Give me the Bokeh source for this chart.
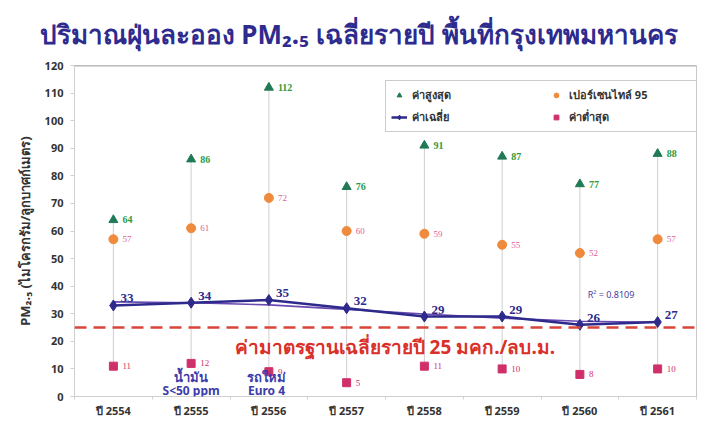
from bokeh.plotting import figure
from bokeh.models import (ColumnDataSource, Range1d, FixedTicker, Span, Label,
                          Legend, LegendItem, Title)
from bokeh.embed import file_html
from bokeh.resources import INLINE

# ---- data ----
years = ["ปี 2554", "ปี 2555", "ปี 2556", "ปี 2557", "ปี 2558", "ปี 2559", "ปี 2560", "ปี 2561"]
max_vals = [64, 86, 112, 76, 91, 87, 77, 88]
p95_vals = [57, 61, 72, 60, 59, 55, 52, 57]
mean_vals = [33, 34, 35, 32, 29, 29, 26, 27]
min_vals = [11, 12, 9, 5, 11, 10, 8, 10]
trend_vals = [34.3, 34.0, 33.2, 31.6, 29.9, 28.4, 27.3, 26.9]
standard = 25
y_ticks = [0, 10, 20, 30, 40, 50, 60, 70, 80, 90, 100, 110, 120]

FONT = "Noto Sans"
xs = list(range(1, len(years) + 1))

src = ColumnDataSource(dict(
    x=xs, mx=max_vals, p95=p95_vals, mean=mean_vals, mn=min_vals, trend=trend_vals,
    mx_t=[str(v) for v in max_vals], p95_t=[str(v) for v in p95_vals],
    mean_t=[str(v) for v in mean_vals], mn_t=[str(v) for v in min_vals],
))

p = figure(width=706, height=420, output_backend="svg", toolbar_location=None,
           x_range=Range1d(0.5, len(years) + 0.5), y_range=Range1d(0, 120),
           min_border_left=74, min_border_right=10, min_border_top=10, min_border_bottom=18,
           background_fill_color="white", border_fill_color="white")
p.title = Title(text="ปริมาณฝุ่นละออง PM₂.₅ เฉลี่ยรายปี พื้นที่กรุงเทพมหานคร",
                align="left", text_font=FONT, text_font_size="26px",
                text_font_style="bold", text_color="#2e2b8f", offset=-35, standoff=27)
p.outline_line_color = "#c8c8c8"
p.xgrid.visible = False
p.ygrid.visible = False

# axes
p.yaxis.ticker = FixedTicker(ticks=y_ticks)
p.yaxis.major_label_text_font = FONT
p.yaxis.major_label_text_font_size = "11px"
p.yaxis.major_label_text_font_style = "bold"
p.yaxis.major_label_text_color = "#333333"
p.yaxis.major_label_standoff = 7
p.yaxis.axis_line_color = "#d0d0d0"
p.yaxis.major_tick_line_color = "#d0d0d0"
p.yaxis.major_tick_out = 4
p.yaxis.major_tick_in = 0
p.yaxis.minor_tick_line_color = None
p.yaxis.axis_label = "PM₂.₅ (ไมโครกรัม/ลูกบาศก์เมตร)"
p.yaxis.axis_label_text_font = FONT
p.yaxis.axis_label_text_font_size = "13px"
p.yaxis.axis_label_text_font_style = "bold"
p.yaxis.axis_label_text_color = "#333333"
p.yaxis.axis_label_standoff = 8

p.xaxis.ticker = FixedTicker(ticks=xs, minor_ticks=[i + 0.5 for i in range(len(years) + 1)])
p.xaxis.major_label_overrides = {x: y for x, y in zip(xs, years)}
p.xaxis.axis_label = None
p.xaxis.axis_label_standoff = 0
p.xaxis.major_label_text_font = FONT
p.xaxis.major_label_text_font_size = "11px"
p.xaxis.major_label_text_font_style = "bold"
p.xaxis.major_label_text_color = "#333333"
p.xaxis.major_label_standoff = 3
p.xaxis.axis_line_color = "#d0d0d0"
p.xaxis.major_tick_line_color = None
p.xaxis.major_tick_out = 0
p.xaxis.minor_tick_line_color = "#d0d0d0"
p.xaxis.minor_tick_out = 3
p.xaxis.minor_tick_in = 0

# top border
p.add_layout(Span(location=120, dimension="width", line_color="#b0b0b0", line_width=2))

# high-low lines
p.segment(x0="x", y0="mn", x1="x", y1="mx", source=src, line_color="#cfcfcf", line_width=1)

# standard line
p.add_layout(Span(location=standard, dimension="width", line_color="#d9453a",
                  line_width=2.5, line_dash="12 7"))

# trend and mean lines
p.line(x="x", y="trend", source=src, line_color="#6a4ab0", line_width=1.6)
r_mean_line = p.line(x="x", y="mean", source=src, line_color="#2e2a8c", line_width=2.5)
r_mean_pt = p.scatter(x="x", y="mean", source=src, marker="diamond", size=11,
                      fill_color="#2e2a8c", line_color="#2e2a8c")

r_max = p.scatter(x="x", y="mx", source=src, marker="triangle", size=9,
                  fill_color="#1f7a55", line_color="#1f7a55")
r_p95 = p.scatter(x="x", y="p95", source=src, marker="circle", size=9,
                  fill_color="#f08a3c", line_color="#f08a3c")
r_min = p.scatter(x="x", y="mn", source=src, marker="square", size=8,
                  fill_color="#d0306a", line_color="#d0306a")

# data labels
p.text(x="x", y="mx", text="mx_t", source=src, x_offset=9, text_baseline="middle",
       text_font=FONT, text_font_size="10px", text_font_style="bold", text_color="#2e9a3e")
p.text(x="x", y="p95", text="p95_t", source=src, x_offset=9, text_baseline="middle",
       text_font=FONT, text_font_size="9px", text_color="#e0609a")
p.text(x="x", y="mn", text="mn_t", source=src, x_offset=9, text_baseline="middle",
       text_font=FONT, text_font_size="9px", text_color="#d0306a")
p.text(x="x", y="mean", text="mean_t", source=src, x_offset=7, y_offset=-3,
       text_baseline="bottom", text_font=FONT, text_font_size="13px",
       text_font_style="bold", text_color="#2e2a8c")

# annotations
p.add_layout(Label(x=4.62, y=17.8, text="ค่ามาตรฐานเฉลี่ยรายปี 25 มคก./ลบ.ม.",
                   text_align="center", text_baseline="middle", text_font=FONT,
                   text_font_size="19px", text_font_style="bold", text_color="#d9302a"))
p.add_layout(Label(x=7.1, y=37, text="R² = 0.8109", text_baseline="middle",
                   text_font=FONT, text_font_size="9px", text_color="#4a3aa0"))
p.add_layout(Label(x=2.0, y=7.0, text="น้ำมัน", text_align="center", text_baseline="middle",
                   text_font=FONT, text_font_size="13px", text_font_style="bold",
                   text_color="#3c3caa"))
p.add_layout(Label(x=2.0, y=2.1, text="S<50 ppm", text_align="center", text_baseline="middle",
                   text_font=FONT, text_font_size="12px", text_font_style="bold",
                   text_color="#3c3caa"))
p.add_layout(Label(x=2.97, y=7.0, text="รถใหม่", text_align="center", text_baseline="middle",
                   text_font=FONT, text_font_size="13px", text_font_style="bold",
                   text_color="#3c3caa"))
p.add_layout(Label(x=2.97, y=2.1, text="Euro 4", text_align="center", text_baseline="middle",
                   text_font=FONT, text_font_size="12px", text_font_style="bold",
                   text_color="#3c3caa"))

# legend (items fill column by column)
legend = Legend(items=[
    LegendItem(label="ค่าสูงสุด", renderers=[r_max]),
    LegendItem(label="ค่าเฉลี่ย", renderers=[r_mean_line, r_mean_pt]),
    LegendItem(label="เปอร์เซนไทล์ 95", renderers=[r_p95]),
    LegendItem(label="ค่าต่ำสุด", renderers=[r_min]),
], ncols=2, location=(311, 264), label_text_font=FONT, label_text_font_size="11px",
   label_text_font_style="bold", label_text_color="#333333", label_width=132,
   glyph_width=16, glyph_height=12, label_height=12, spacing=4, padding=5,
   border_line_color="#999999", border_line_width=1, background_fill_alpha=1)
p.add_layout(legend)

open("out.html", "w").write(file_html(p, INLINE))
